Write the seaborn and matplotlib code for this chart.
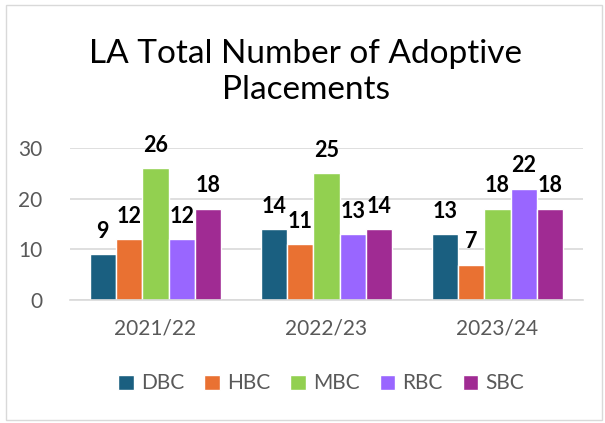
import matplotlib
matplotlib.use("Agg")
import matplotlib.pyplot as plt
import seaborn as sns
import pandas as pd
from matplotlib.patches import Rectangle

years = ["2021/22", "2022/23", "2023/24"]
councils = ["DBC", "HBC", "MBC", "RBC", "SBC"]
dbc = [9, 14, 13]
hbc = [12, 11, 7]
mbc = [26, 25, 18]
rbc = [12, 13, 22]
sbc = [18, 14, 18]
colors = ["#1a5f80", "#e97132", "#92d050", "#9966ff", "#a02b93"]

df = pd.DataFrame({"year": years * 5,
                   "council": [c for c in councils for _ in years],
                   "value": dbc + hbc + mbc + rbc + sbc})

sns.set_style("white")
plt.rcParams["font.family"] = ["Lato", "DejaVu Sans"]

fig = plt.figure(figsize=(6.05, 4.23), dpi=100)
ax = fig.add_axes([70 / 605, 1 - 300 / 423, 513 / 605, 152 / 423])

sns.barplot(data=df, x="year", y="value", hue="council", palette=colors,
            width=0.77, saturation=1, ax=ax, legend=True)

for cont in ax.containers:
    ax.bar_label(cont, padding=9, fontsize=15.5, fontweight="bold", color="black")

ax.set_ylim(0, 30)
ax.set_yticks([0, 10, 20, 30])
ax.yaxis.grid(True, color="#d9d9d9", linewidth=1.2)
ax.set_axisbelow(True)
for s in ["top", "right", "left"]:
    ax.spines[s].set_visible(False)
ax.spines["bottom"].set_color("#d9d9d9")
ax.spines["bottom"].set_linewidth(1.2)
ax.tick_params(axis="both", length=0, labelsize=15, labelcolor="#595959", pad=13)
ax.tick_params(axis="y", pad=20)
ax.set_xlabel("")
ax.set_ylabel("")

leg = ax.legend(loc="upper center", bbox_to_anchor=(0.49, -0.36), ncol=5,
                frameon=False, fontsize=15, handlelength=0.75, handleheight=0.75,
                handletextpad=0.35, columnspacing=0.95)
for t in leg.get_texts():
    t.set_color("#595959")

fig.text(0.505, 1 - 72 / 423, "LA Total Number of Adoptive\nPlacements",
         ha="center", va="center", fontsize=24, color="black", linespacing=1.25)

fig.patches.append(Rectangle((6 / 605, 3 / 423), 596 / 605, 415 / 423,
                             transform=fig.transFigure, fill=False,
                             edgecolor="#d9d9d9", linewidth=1))

fig.savefig("out.png", dpi=100)
